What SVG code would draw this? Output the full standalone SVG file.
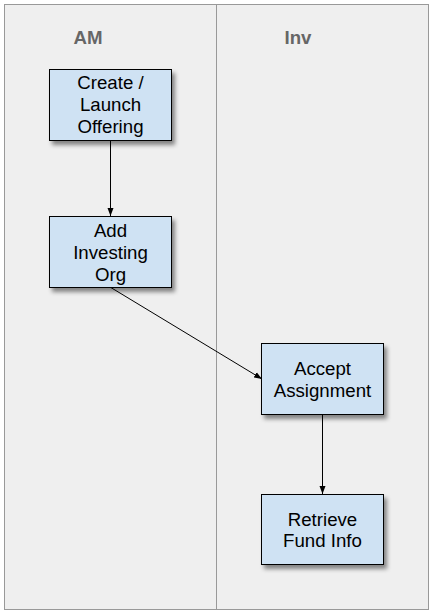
<svg xmlns="http://www.w3.org/2000/svg" width="433" height="614" viewBox="0 0 433 614">
<style>
.lane{fill:#efefef;stroke:#999999;stroke-width:1}
.hdr{font-family:"Liberation Sans",Arial,sans-serif;font-size:18.67px;font-weight:bold;fill:#666666;text-anchor:middle}
.box{fill:#cfe2f3;stroke:#000000;stroke-width:1;filter:url(#sh)}
.lbl{font-family:"Liberation Sans",Arial,sans-serif;font-size:18.67px;fill:#000000;text-anchor:middle}
.con{stroke:#000000;stroke-width:1;fill:none;marker-end:url(#ah)}
</style>
<defs>
<filter id="sh" x="-20%" y="-20%" width="150%" height="150%">
<feDropShadow dx="3" dy="4" stdDeviation="2" flood-color="#000000" flood-opacity="0.45"/>
</filter>
<marker id="ah" viewBox="0 0 8 8" refX="8" refY="4" markerWidth="8" markerHeight="8" markerUnits="userSpaceOnUse" orient="auto">
<path d="M0,1 L8,4 L0,7 Z" fill="#000000"/>
</marker>
</defs>
<rect width="433" height="614" fill="#ffffff"/>
<g id="lanes">
<rect class="lane" x="4.5" y="4.5" width="212" height="605"/>
<rect class="lane" x="216.5" y="4.5" width="212" height="605"/>
<text class="hdr" x="88" y="44">AM</text>
<text class="hdr" x="298" y="44">Inv</text>
</g>
<g id="connectors">
<line class="con" x1="110.5" y1="140" x2="110.5" y2="216"/>
<line class="con" x1="110" y1="287" x2="262" y2="379"/>
<line class="con" x1="322.5" y1="414" x2="322.5" y2="494"/>
</g>
<g id="n1">
<rect class="box" x="49.5" y="69.5" width="122" height="71"/>
<text class="lbl" x="110.5" y="89">Create /</text>
<text class="lbl" x="110.5" y="111">Launch</text>
<text class="lbl" x="110.5" y="133">Offering</text>
</g>
<g id="n2">
<rect class="box" x="49.5" y="216.5" width="122" height="71"/>
<text class="lbl" x="110.5" y="237">Add</text>
<text class="lbl" x="110.5" y="259">Investing</text>
<text class="lbl" x="110.5" y="281">Org</text>
</g>
<g id="n3">
<rect class="box" x="261.5" y="343.5" width="122" height="71"/>
<text class="lbl" x="322.5" y="375">Accept</text>
<text class="lbl" x="322.5" y="397">Assignment</text>
</g>
<g id="n4">
<rect class="box" x="261.5" y="494.5" width="122" height="70"/>
<text class="lbl" x="322.5" y="526">Retrieve</text>
<text class="lbl" x="322.5" y="547">Fund Info</text>
</g>
</svg>
